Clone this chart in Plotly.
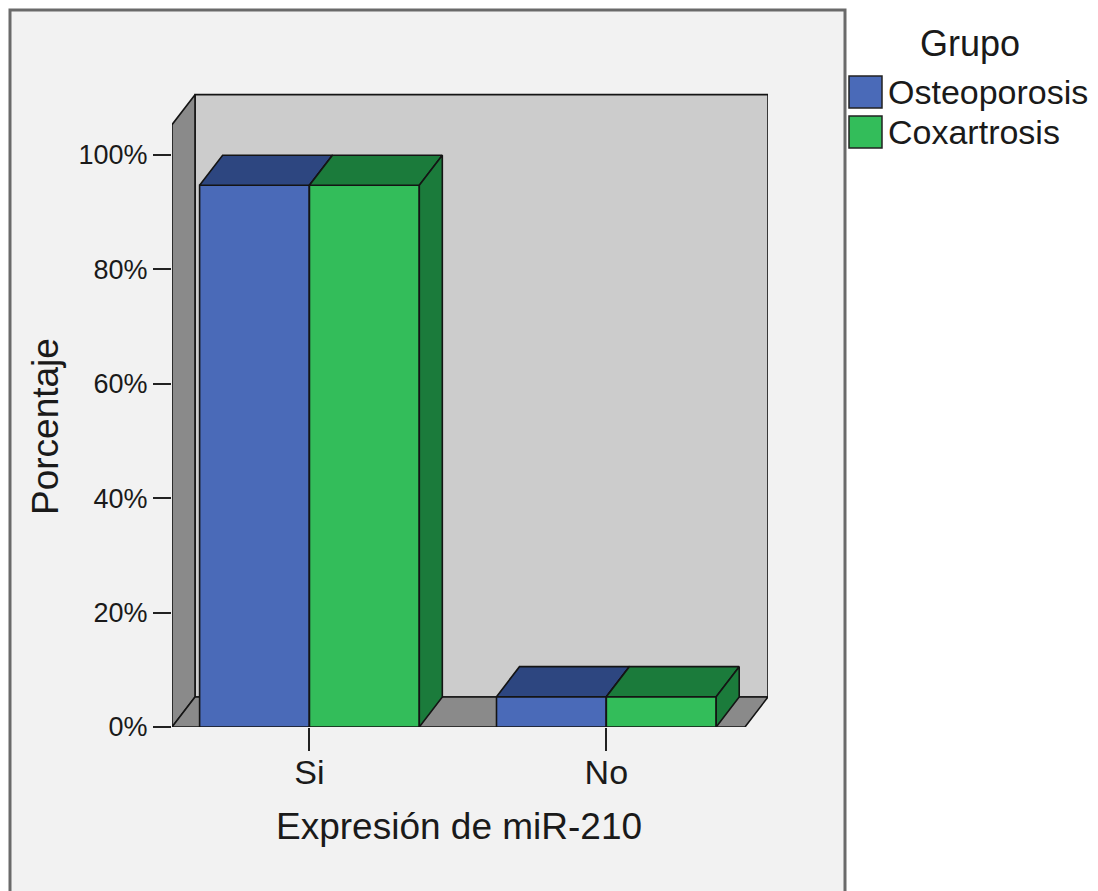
import plotly.graph_objects as go

# Data: percentage of each group by miR-210 expression
categorias = ["Si", "No"]
grupos = ["Osteoporosis", "Coxartrosis"]
osteoporosis = [94.7, 5.3]
coxartrosis = [94.7, 5.3]
tick_vals = [0, 20, 40, 60, 80, 100]

# Colours: (front face, top/side face)
colores = {
    "Osteoporosis": ("#4a6ab8", "#2d4680"),
    "Coxartrosis": ("#33bd5a", "#1b7b3b"),
}

# Pseudo-3D geometry (data units)
BAR_W = 0.37       # width of one bar
DX = 0.0775        # depth offset along x
DY = 5.25          # depth offset along y (percent)
WALL_H = 105.3     # height of the walls
X_LO, X_HI = -0.463, 1.467

W, H = 1098, 891
L, R, T, B = 172, 330, 93, 164
PW, PH = W - L - R, H - T - B


def pxx(px):
    return (px - L) / PW


def pxy(py):
    return (H - B - py) / PH


EDGE = dict(color="#141414", width=1.6)


def poly(xs, ys, fill):
    return go.Scatter(
        x=xs + [xs[0]], y=ys + [ys[0]], mode="lines", fill="toself",
        fillcolor=fill, line=EDGE, hoverinfo="skip", showlegend=False,
    )


fig = go.Figure()

# Back wall, left wall and floor
fig.add_trace(poly([X_LO + DX, X_HI + DX, X_HI + DX, X_LO + DX],
                   [DY, DY, WALL_H + DY, WALL_H + DY], "#cccccc"))
fig.add_trace(poly([X_LO, X_LO + DX, X_LO + DX, X_LO],
                   [0, DY, WALL_H + DY, WALL_H], "#8a8a8a"))
fig.add_trace(poly([X_LO, X_HI, X_HI + DX, X_LO + DX],
                   [0, 0, DY, DY], "#8a8a8a"))

# Bars: front, top and right side faces
series = {"Osteoporosis": osteoporosis, "Coxartrosis": coxartrosis}
for i, cat in enumerate(categorias):
    for j, g in enumerate(grupos):
        h = series[g][i]
        xl = i - BAR_W + j * BAR_W
        xr = xl + BAR_W
        front, dark = colores[g]
        fig.add_trace(poly([xl, xr, xr, xl], [0, 0, h, h], front))
        fig.add_trace(poly([xl, xr, xr + DX, xl + DX],
                           [h, h, h + DY, h + DY], dark))
        fig.add_trace(poly([xr, xr + DX, xr + DX, xr],
                           [0, DY, h + DY, h], dark))

FONT = "Liberation Sans, Arial, Helvetica, sans-serif"
TXT = "#1a1a1a"

shapes = [
    # chart panel
    dict(type="rect", xref="paper", yref="paper",
         x0=pxx(10), x1=pxx(845), y0=pxy(900), y1=pxy(10),
         fillcolor="#f2f2f2", line=dict(color="#6a6a6a", width=3),
         layer="below"),
]

annotations = [
    dict(text="Expresión de miR-210", xref="x", yref="paper",
         x=(X_LO + X_HI) / 2, y=pxy(826), showarrow=False,
         font=dict(size=37, color=TXT, family=FONT),
         xanchor="center", yanchor="middle"),
    dict(text="Porcentaje", xref="paper", yref="paper",
         x=pxx(45), y=pxy(427), showarrow=False, textangle=-90,
         font=dict(size=37, color=TXT, family=FONT),
         xanchor="center", yanchor="middle"),
    dict(text="Grupo", xref="paper", yref="paper",
         x=pxx(970), y=pxy(43), showarrow=False,
         font=dict(size=36, color=TXT, family=FONT),
         xanchor="center", yanchor="middle"),
]

# Legend entries
for k, g in enumerate(grupos):
    top = 76 + k * 40
    shapes.append(dict(type="rect", xref="paper", yref="paper",
                       x0=pxx(849), x1=pxx(882), y0=pxy(top + 32), y1=pxy(top),
                       fillcolor=colores[g][0],
                       line=dict(color="#222222", width=1.5)))
    annotations.append(dict(text=g, xref="paper", yref="paper",
                            x=pxx(886), y=pxy(top + 16), showarrow=False,
                            font=dict(size=34, color=TXT, family=FONT),
                            xanchor="left", yanchor="middle"))

fig.update_layout(
    width=W, height=H,
    margin=dict(l=L, r=R, t=T, b=B, pad=0),
    paper_bgcolor="white",
    plot_bgcolor="rgba(0,0,0,0)",
    showlegend=False,
    shapes=shapes,
    annotations=annotations,
    font=dict(family=FONT, color=TXT),
    xaxis=dict(
        range=[X_LO, X_HI + DX], tickvals=list(range(len(categorias))),
        ticktext=categorias, ticks="outside", ticklen=23, tickwidth=2,
        tickcolor="#222222", showgrid=False, zeroline=False, showline=False,
        tickfont=dict(size=34, color=TXT, family=FONT), fixedrange=True,
        ticklabelstandoff=-8,
    ),
    yaxis=dict(
        range=[0, PH / 5.72], tickvals=tick_vals,
        ticktext=[f"{v}%" for v in tick_vals], ticks="outside", ticklen=18,
        tickwidth=2, tickcolor="#222222", showgrid=False, zeroline=False,
        showline=False, tickfont=dict(size=27, color=TXT, family=FONT),
        fixedrange=True,
    ),
)

fig.write_html("out.html")
